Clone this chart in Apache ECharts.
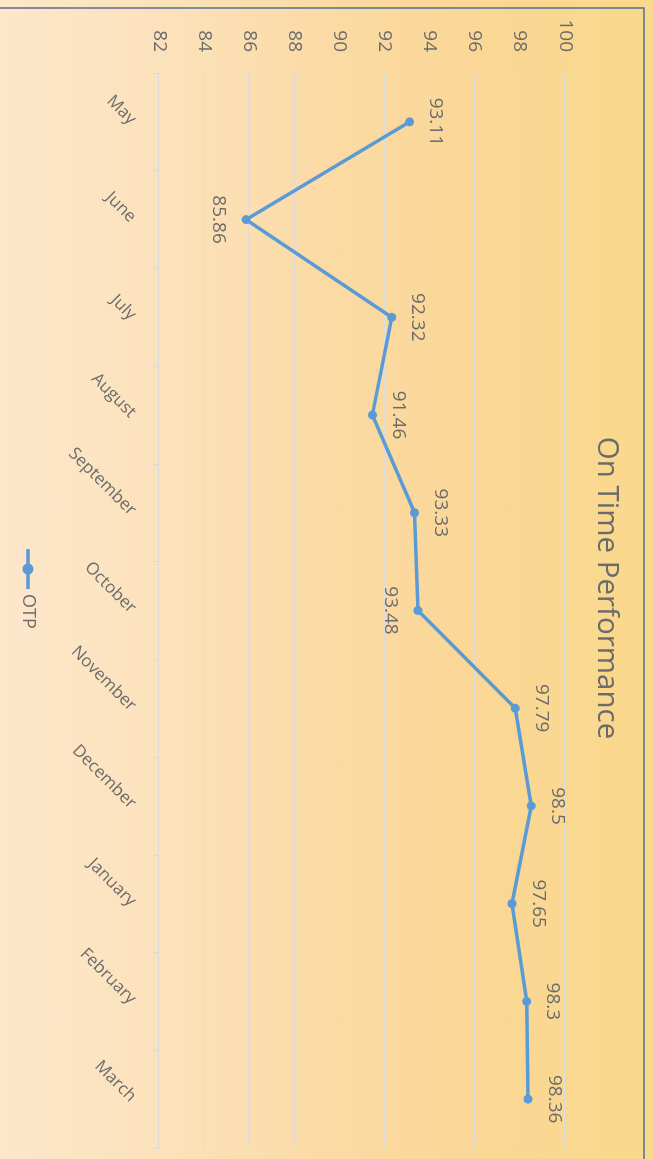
<!DOCTYPE html>
<html>
<head>
<meta charset="utf-8">
<script src="https://cdn.jsdelivr.net/npm/echarts@6/dist/echarts.min.js"></script>
<style>
    html, body {
        margin: 0;
        padding: 0;
        width: 653px;
        height: 1159px;
        overflow: hidden;
        background: linear-gradient(to right, #fde6cb 0%, #fce2bb 25%, #fbdaa5 50%, #fad795 75%, #f9d98c 100%);
    }
    /* chart drawn landscape, then turned a quarter clockwise */
    #chart {
        position: absolute;
        left: 0;
        top: 0;
        width: 1176px;
        height: 653px;
        transform-origin: 0 0;
        transform: translate(653px, 0) rotate(90deg);
    }
</style>
</head>
<body>
<div id="chart"></div>
<script>
const months = ['May', 'June', 'July', 'August', 'September', 'October', 'November', 'December', 'January', 'February', 'March'];
const otp = [93.11, 85.86, 92.32, 91.46, 93.33, 93.48, 97.79, 98.5, 97.65, 98.3, 98.36];
const valueMin = 82;
const valueMax = 100;
const valueStep = 2;
// points whose label sits under the marker
const labelsBelow = [1, 5];

(function(){
    let myChart = echarts.init(document.getElementById('chart'));
    let textColor = '#6b6b6b';
    let option = {
        backgroundColor: 'transparent',
        textStyle: {
            fontFamily: 'Open Sans'
        },
        title: {
            text: 'On Time Performance',
            left: 'center',
            top: 27,
            textStyle: {
                color: textColor,
                fontSize: 29.5,
                fontWeight: 'normal',
                fontFamily: 'Open Sans'
            }
        },
        legend: {
            data: ['OTP'],
            left: 'center',
            top: 611,
            itemWidth: 40,
            itemHeight: 14,
            itemGap: 7,
            lineStyle: { width: 3.5 },
            textStyle: {
                color: textColor,
                fontSize: 18
            }
        },
        // chart area border (only the left and top edges are in frame)
        graphic: [{
            type: 'rect',
            shape: { x: 8, y: 9, width: 1300, height: 800 },
            style: { fill: 'none', stroke: '#52708e', lineWidth: 1.5 },
            silent: true
        }],
        grid: {
            left: 73,
            right: 28,
            top: 88,
            bottom: 159
        },
        xAxis: {
            type: 'category',
            data: months,
            boundaryGap: true,
            axisLine: {
                lineStyle: { color: '#d9d9d9', width: 1 }
            },
            axisTick: {
                show: true,
                length: 6,
                lineStyle: { color: '#d9d9d9' }
            },
            axisLabel: {
                color: textColor,
                fontSize: 17,
                rotate: 45,
                margin: 26,
                interval: 0
            }
        },
        yAxis: {
            type: 'value',
            min: valueMin,
            max: valueMax,
            interval: valueStep,
            axisLine: { show: false },
            axisTick: { show: false },
            axisLabel: {
                color: textColor,
                fontSize: 19,
                margin: 21
            },
            splitLine: {
                lineStyle: { color: '#dcdcdc', width: 1 }
            }
        },
        series: [{
            name: 'OTP',
            type: 'line',
            data: otp.map(function(v, i){
                let below = labelsBelow.indexOf(i) >= 0;
                return {
                    value: v,
                    label: { position: below ? 'bottom' : 'top', distance: below ? 14 : 12 }
                };
            }),
            symbol: 'circle',
            symbolSize: 9,
            lineStyle: { color: '#5b9bd5', width: 3.5 },
            itemStyle: { color: '#5b9bd5' },
            label: {
                show: true,
                color: textColor,
                fontSize: 19
            },
            animation: false
        }]
    };
    myChart.setOption(option);
})();
</script>
</body>
</html>
